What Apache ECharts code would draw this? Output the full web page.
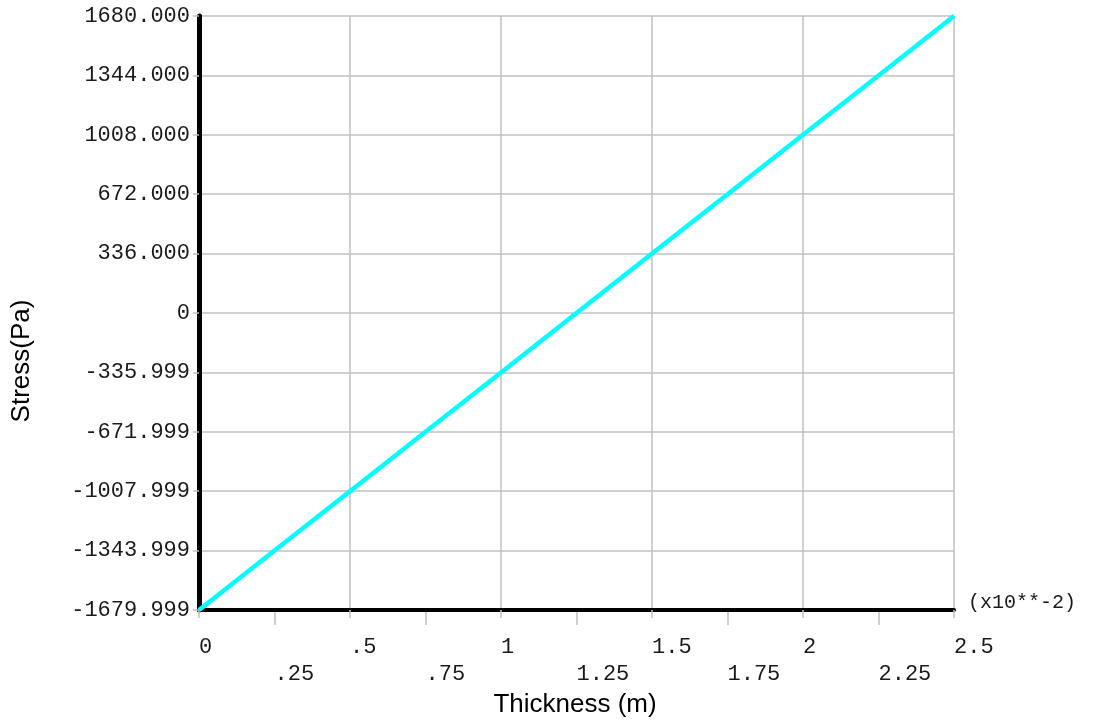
<!DOCTYPE html>
<html>
<head>
<meta charset="utf-8">
<script src="https://cdn.jsdelivr.net/npm/echarts@6/dist/echarts.min.js"></script>
<style>
html,body{margin:0;padding:0;background:#fff;}
#chart{width:1093px;height:724px;}
</style>
</head>
<body>
<div id="chart"></div>
<script>
// ---- data ----
const thickness = [0, 0.25, 0.5, 0.75, 1, 1.25, 1.5, 1.75, 2, 2.25, 2.5];
const stress = [-1680, -1344, -1008, -672, -336, 0, 336, 672, 1008, 1344, 1680];

const xMajorTicks = [0, 0.5, 1, 1.5, 2, 2.5];
const xMajorLabels = ['0', '.5', '1', '1.5', '2', '2.5'];
const xMinorTicks = [0.25, 0.75, 1.25, 1.75, 2.25];
const xMinorLabels = ['.25', '.75', '1.25', '1.75', '2.25'];

const yTicks = [-1680, -1344, -1008, -672, -336, 0, 336, 672, 1008, 1344, 1680];
const yLabels = ['-1679.999', '-1343.999', '-1007.999', '-671.999', '-335.999', '0',
                 '336.000', '672.000', '1008.000', '1344.000', '1680.000'];

const xName = 'Thickness (m)';
const yName = 'Stress(Pa)';
const xScale = '(x10**-2)';

// ---- chart ----
const chart = echarts.init(document.getElementById('chart'), null, {renderer: 'canvas'});
const mono = '"Liberation Mono", "DejaVu Sans Mono", monospace';
const sans = '"Liberation Sans", Arial, sans-serif';
const grey = '#c0c0c0';
const ink = '#1a1a1a';

function lookup(ticks, labels, v) {
  for (let i = 0; i < ticks.length; i++) {
    if (Math.abs(ticks[i] - v) < 1e-6) return labels[i];
  }
  return '';
}

const option = {
  animation: false,
  backgroundColor: '#ffffff',
  grid: {left: 199, right: 139, top: 16, bottom: 114, containLabel: false},
  xAxis: [
    {
      type: 'value', min: 0, max: 2.5, interval: 0.25, position: 'bottom', offset: 0,
      axisLine: {show: true, onZero: false, lineStyle: {color: '#000', width: 4}},
      splitLine: {show: true, lineStyle: {color: grey, width: 1.5}},
      axisTick: {show: true, length: 8, customValues: xMajorTicks, lineStyle: {color: grey, width: 1.5}},
      axisLabel: {
        show: true, customValues: xMajorTicks, margin: 26, align: 'left',
        fontFamily: mono, fontSize: 22, lineHeight: 22, color: ink,
        showMinLabel: true, showMaxLabel: true,
        formatter: v => lookup(xMajorTicks, xMajorLabels, v)
      },
      z: 10
    },
    {
      type: 'value', min: 0, max: 2.5, interval: 0.25, position: 'bottom', offset: 0,
      axisLine: {show: false, onZero: false},
      splitLine: {show: false},
      axisTick: {show: true, length: 15, customValues: xMinorTicks, lineStyle: {color: grey, width: 1.5}},
      axisLabel: {
        show: true, customValues: xMinorTicks, margin: 53, align: 'left',
        fontFamily: mono, fontSize: 22, lineHeight: 22, color: ink,
        formatter: v => lookup(xMinorTicks, xMinorLabels, v)
      }
    }
  ],
  yAxis: {
    type: 'value', min: -1680, max: 1680, interval: 336,
    axisLine: {show: true, onZero: false, lineStyle: {color: '#000', width: 5}},
    splitLine: {show: true, lineStyle: {color: grey, width: 1.5}},
    axisTick: {show: true, length: 6, lineStyle: {color: grey, width: 1.5}},
    axisLabel: {
      margin: 9, fontFamily: mono, fontSize: 22, color: ink,
      showMinLabel: true, showMaxLabel: true,
      formatter: v => lookup(yTicks, yLabels, v)
    },
    z: 10
  },
  series: [{
    type: 'line',
    xAxisIndex: 0,
    data: thickness.map((x, i) => [x, stress[i]]),
    symbol: 'none',
    clip: false,
    lineStyle: {color: '#00FFFF', width: 4.5},
    z: 20
  }],
  graphic: [
    {
      type: 'text', x: 575, y: 705,
      style: {text: xName, font: '26px ' + sans, fill: '#000',
              align: 'center', verticalAlign: 'middle'}
    },
    {
      type: 'text', x: 22, y: 361, rotation: Math.PI / 2,
      style: {text: yName, font: '26px ' + sans, fill: '#000',
              align: 'center', verticalAlign: 'middle'}
    },
    {
      type: 'text', x: 968, y: 603,
      style: {text: xScale, font: '20px ' + mono, fill: ink,
              align: 'left', verticalAlign: 'middle'}
    }
  ]
};
chart.setOption(option);
</script>
</body>
</html>
